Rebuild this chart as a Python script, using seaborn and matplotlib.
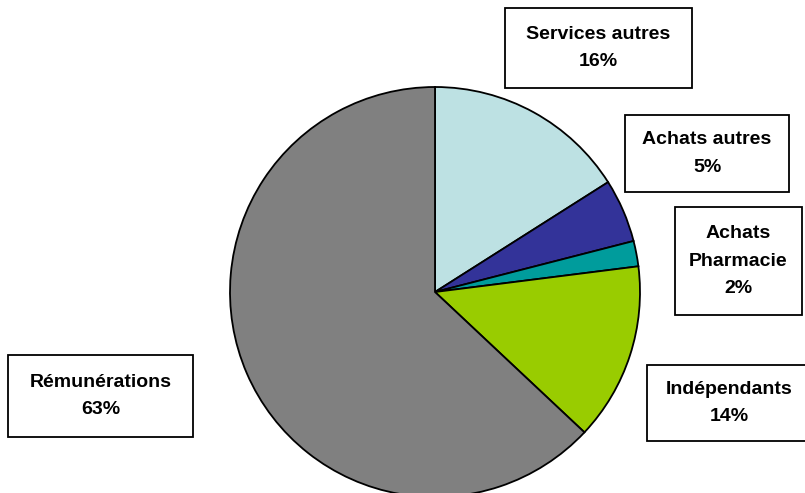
import matplotlib
matplotlib.use("Agg")
import matplotlib.pyplot as plt
from matplotlib.patches import Rectangle
import seaborn as sns

categories = ["Services autres", "Achats autres", "Achats\nPharmacie", "Indépendants", "Rémunérations"]
values = [16, 5, 2, 14, 63]
colors = ["#BDE1E3", "#333399", "#009C9C", "#99CC00", "#808080"]

sns.set_theme(style="white")
plt.rcParams["font.family"] = ["Liberation Sans", "DejaVu Sans"]

W, H = 805, 493
fig = plt.figure(figsize=(W / 100, H / 100), dpi=100)
ax = fig.add_axes([0, 0, 1, 1])

cx, cy, r = 435, H - 292, 205
ax.pie(values, colors=colors, startangle=90, counterclock=False,
       center=(cx, cy), radius=r, frame=True,
       wedgeprops=dict(edgecolor="black", linewidth=1.3))
ax.set_xlim(0, W)
ax.set_ylim(0, H)
ax.set_aspect("equal")
ax.axis("off")

# label boxes in pixel coords (x0, y0, x1, y1)
boxes = [(505, 8, 692, 88), (625, 115, 789, 192), (675, 207, 802, 315),
         (647, 365, 812, 441), (8, 355, 193, 437)]
for cat, val, (x0, y0, x1, y1) in zip(categories, values, boxes):
    ax.add_patch(Rectangle((x0, H - y1), x1 - x0, y1 - y0, facecolor="white",
                           edgecolor="black", linewidth=1.3, zorder=5, clip_on=False))
    ax.text((x0 + x1) / 2, H - (y0 + y1) / 2, f"{cat}\n{val}%", ha="center", va="center",
            fontsize=14, fontweight="bold", linespacing=1.8, color="black", zorder=6)

fig.savefig("out.png", dpi=100)
